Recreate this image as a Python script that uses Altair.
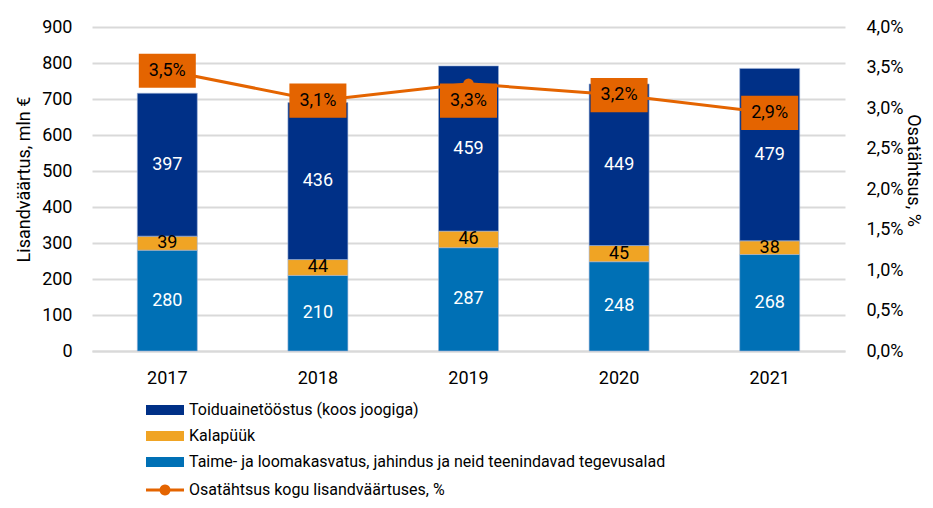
import math
import altair as alt
import pandas as pd

years = ["2017", "2018", "2019", "2020", "2021"]
taime = [280, 210, 287, 248, 268]
kala = [39, 44, 46, 45, 38]
toidu = [397, 436, 459, 449, 479]
share = [3.46, 3.09, 3.30, 3.16, 2.94]

S_TOIDU = "Toiduainetööstus (koos joogiga)"
S_KALA = "Kalapüük"
S_TAIME = "Taime- ja loomakasvatus, jahindus ja neid teenindavad tegevusalad"
S_LINE = "Osatähtsus kogu lisandväärtuses, %"

series = [S_TOIDU, S_KALA, S_TAIME]
colors = ["#003087", "#F0A424", "#0070B5"]
line_color = "#E46400"

rows = []
for i, y in enumerate(years):
    rows.append({"year": y, "series": S_TAIME, "value": taime[i], "ord": 0})
    rows.append({"year": y, "series": S_KALA, "value": kala[i], "ord": 1})
    rows.append({"year": y, "series": S_TOIDU, "value": toidu[i], "ord": 2})
bars_df = pd.DataFrame(rows)
line_df = pd.DataFrame({"year": years, "share": share, "s": [S_LINE] * len(years)})

FONT = "Roboto"

# legend symbol for the line series: a thick stroke with a round marker
circ = " ".join(
    ("M" if k == 0 else "L") + f"{0.55*math.cos(2*math.pi*k/24):.3f},{0.55*math.sin(2*math.pi*k/24):.3f}"
    for k in range(24)
) + "Z"
line_sym = "M-1.9,-0.15L1.9,-0.15L1.9,0.15L-1.9,0.15Z " + circ

xenc = alt.X("year:N", title=None,
             scale=alt.Scale(paddingInner=0.6, paddingOuter=0.3),
             axis=alt.Axis(labelAngle=0, labelPadding=18, tickSize=0, domainColor="#D9D9D9",
                           domainWidth=2, labelFontSize=18, labelColor="#000"))

yscale = alt.Scale(domain=[0, 900])
yaxis = alt.Axis(values=list(range(0, 901, 100)), tickSize=0, labelPadding=20,
                 labelOverlap=False, domain=False, gridColor="#D9D9D9", gridWidth=2,
                 labelFontSize=18, labelColor="#000", titleFontSize=18,
                 titleFontWeight="normal", titleColor="#000", titlePadding=8,
                 titleY=152)
YTITLE = "Lisandväärtus, mln €"

base_bars = alt.Chart(bars_df).transform_stack(
    stack="value", groupby=["year"], as_=["y0", "y1"], sort=[alt.SortField("ord")]
).transform_calculate(mid="(datum.y0 + datum.y1) / 2")

bars = base_bars.mark_bar(size=60, stroke="#9DB4D8", strokeWidth=0.6).encode(
    x=xenc,
    y=alt.Y("y0:Q", scale=yscale, title=YTITLE, axis=yaxis),
    y2="y1:Q",
    color=alt.Color("series:N", scale=alt.Scale(domain=series, range=colors),
                    legend=alt.Legend(orient="none", legendX=63, legendY=373, title=None,
                                      symbolType="M-1.9,-0.5L1.9,-0.5L1.9,0.5L-1.9,0.5Z",
                                      symbolSize=400, symbolStrokeWidth=0, labelOffset=14,
                                      labelFontSize=16, labelColor="#000", rowPadding=8,
                                      labelLimit=800)),
)

bar_text = base_bars.mark_text(fontSize=18).encode(
    x="year:N",
    y=alt.Y("mid:Q", scale=yscale, title=YTITLE, axis=yaxis),
    text="value:Q",
    color=alt.condition(alt.datum.series == S_KALA, alt.value("#000"), alt.value("#FFF")),
)

yr = alt.Y("share:Q", scale=alt.Scale(domain=[0, 4.0]), title="Osatähtsus, %",
           axis=alt.Axis(orient="right", values=[0, 0.5, 1, 1.5, 2, 2.5, 3, 3.5, 4],
                         labelExpr="replace(format(datum.value, '.1f'), '.', ',') + '%'",
                         labelOverlap=False, grid=False, domain=False, tickSize=0,
                         labelPadding=21, labelFontSize=18, labelColor="#000",
                         titleFontSize=18, titleFontWeight="normal", titleColor="#000",
                         titlePadding=1, titleY=143))

lbase = alt.Chart(line_df).transform_calculate(
    lbl="replace(format(datum.share, '.1f'), '.', ',') + '%'"
)

line = lbase.mark_line(strokeWidth=3).encode(
    x="year:N", y=yr,
    stroke=alt.Stroke("s:N", scale=alt.Scale(domain=[S_LINE], range=[line_color]),
                      legend=alt.Legend(orient="none", legendX=63, legendY=453, title=None,
                                        symbolType=line_sym, symbolSize=400,
                                        symbolFillColor=line_color, symbolStrokeWidth=0,
                                        labelOffset=14, labelFontSize=16, labelColor="#000",
                                        labelLimit=800)),
)
pts = lbase.mark_point(filled=True, size=110, color=line_color, opacity=1).encode(x="year:N", y=yr)

box_shape = "M-1,-0.6L1,-0.6L1,0.6L-1,0.6Z"
boxes_main = lbase.transform_filter(alt.datum.year != "2019").mark_point(
    shape=box_shape, size=3249, filled=True, color=line_color, opacity=1
).encode(x="year:N", y=yr)
boxes_low = lbase.transform_filter(alt.datum.year == "2019").mark_point(
    shape=box_shape, size=3249, filled=True, color=line_color, opacity=1, yOffset=17
).encode(x="year:N", y=yr)
txt_main = lbase.transform_filter(alt.datum.year != "2019").mark_text(
    fontSize=18, color="#000"
).encode(x="year:N", y=yr, text="lbl:N")
txt_low = lbase.transform_filter(alt.datum.year == "2019").mark_text(
    fontSize=18, color="#000", dy=17
).encode(x="year:N", y=yr, text="lbl:N")

left = alt.layer(bars, bar_text)
right = alt.layer(line, pts, boxes_main, boxes_low, txt_main, txt_low)

chart = alt.layer(left, right).resolve_scale(y="independent").properties(
    width=753, height=324,
    autosize=alt.AutoSizeParams(type="none"),
    padding={"left": 84, "top": 19, "right": 80, "bottom": 149},
).configure(font=FONT).configure_view(stroke=None)

chart.save("out.html", embed_options={"renderer": "svg", "actions": False})
